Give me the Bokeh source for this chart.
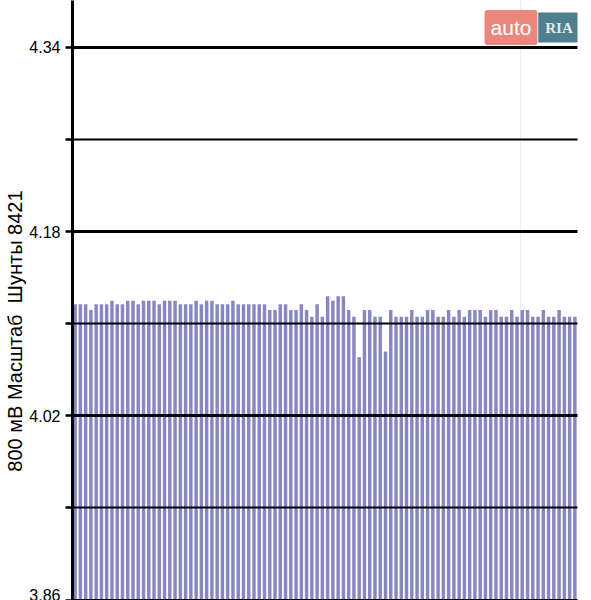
from bokeh.plotting import figure
from bokeh.models import Range1d, FixedTicker, Label, Span
from bokeh.embed import file_html
from bokeh.resources import INLINE

# ---- data ----
bar_index = list(range(96))
voltages = [
    4.117, 4.117, 4.117, 4.112, 4.117, 4.117, 4.117, 4.120, 4.117, 4.117,
    4.120, 4.120, 4.117, 4.120, 4.120, 4.120, 4.117, 4.120, 4.120, 4.120,
    4.117, 4.117, 4.117, 4.120, 4.117, 4.120, 4.120, 4.117, 4.117, 4.117,
    4.120, 4.117, 4.117, 4.117,
    4.117, 4.117, 4.117, 4.112, 4.112, 4.117, 4.117, 4.112, 4.112, 4.117,
    4.112, 4.106, 4.117, 4.106, 4.124, 4.120, 4.124, 4.124, 4.112, 4.106,
    4.071, 4.112, 4.112, 4.106, 4.106, 4.076, 4.112, 4.106, 4.106, 4.106,
    4.112, 4.106, 4.106, 4.112, 4.112, 4.106, 4.106, 4.112,
    4.106, 4.112, 4.106, 4.112, 4.112, 4.112, 4.106, 4.112, 4.112, 4.106,
    4.106, 4.112, 4.106, 4.112, 4.112, 4.106, 4.106, 4.112, 4.106, 4.106,
    4.112, 4.106, 4.106, 4.106,
]
major_ticks = [3.86, 4.02, 4.18, 4.34]
minor_ticks = [3.94, 4.10, 4.26]
tick_labels = ["3.86", "4.02", "4.18", "4.34"]
y_label = "800 мВ Масштаб \u00a0Шунты 8421"
logo_left = "auto"
logo_right = "RIA"

Y0, Y1 = 3.8596, 4.3808
W, H = 591, 600
FL, FR = 72, 14
FW = W - FL - FR


def px_x(px):
    return -0.5 + (px - FL) / FW * len(bar_index)


def px_y(py):
    return Y1 - py / H * (Y1 - Y0)


p = figure(width=W, height=H, output_backend="svg", toolbar_location=None,
           x_axis_location=None,
           x_range=Range1d(-0.5, len(bar_index) - 0.5), y_range=Range1d(Y0, Y1),
           min_border_left=FL, min_border_right=FR, min_border_top=0, min_border_bottom=0)
p.outline_line_color = None
p.background_fill_color = "white"
p.border_fill_color = "white"

# faint watermark panel edge
p.add_layout(Span(location=px_x(520), dimension="height", line_color="#ececec",
                  line_width=1, level="underlay"))

p.vbar(x=bar_index, top=voltages, bottom=major_ticks[0], width=0.66,
       fill_color="#8787c2", line_color=None)

ax = p.yaxis[0]
ax.ticker = FixedTicker(ticks=major_ticks, minor_ticks=minor_ticks)
ax.major_label_overrides = {t: s for t, s in zip(major_ticks, tick_labels)}
ax.major_label_text_font = "Liberation Sans"
ax.major_label_text_font_size = "16px"
ax.major_label_text_color = "black"
ax.major_label_standoff = 5
ax.major_tick_in = 0
ax.major_tick_out = 7
ax.major_tick_line_width = 2.5
ax.major_tick_line_color = "black"
ax.minor_tick_in = 0
ax.minor_tick_out = 7
ax.minor_tick_line_width = 2.5
ax.minor_tick_line_color = "black"
ax.axis_line_width = 3
ax.axis_line_color = "black"
ax.axis_label = y_label + "\u00a0" * 11
ax.axis_label_text_font = "Liberation Sans"
ax.axis_label_text_font_size = "20px"
ax.axis_label_text_font_style = "normal"
ax.axis_label_text_color = "black"
ax.axis_label_standoff = 0

for g in p.xgrid:
    g.visible = False
g = p.ygrid[0]
g.ticker = ax.ticker
g.grid_line_color = "black"
g.grid_line_width = 3
g.minor_grid_line_color = "black"
g.minor_grid_line_width = 2
g.level = "guide"

# watermark logo
p.add_layout(Label(x=px_x(510.5), y=px_y(27), text=logo_left, text_align="center",
                   text_baseline="middle", text_font="Liberation Sans",
                   text_font_size="21px", text_color="white",
                   background_fill_color="#e9877d", padding=6, border_radius=3))
p.add_layout(Label(x=px_x(558.5), y=px_y(27), text=logo_right, text_align="center",
                   text_baseline="middle", text_font="Liberation Serif",
                   text_font_size="15px", text_font_style="bold", text_color="#e2eaec",
                   background_fill_color="#4e7e8f", padding=7))

open("out.html", "w").write(file_html(p, INLINE))
